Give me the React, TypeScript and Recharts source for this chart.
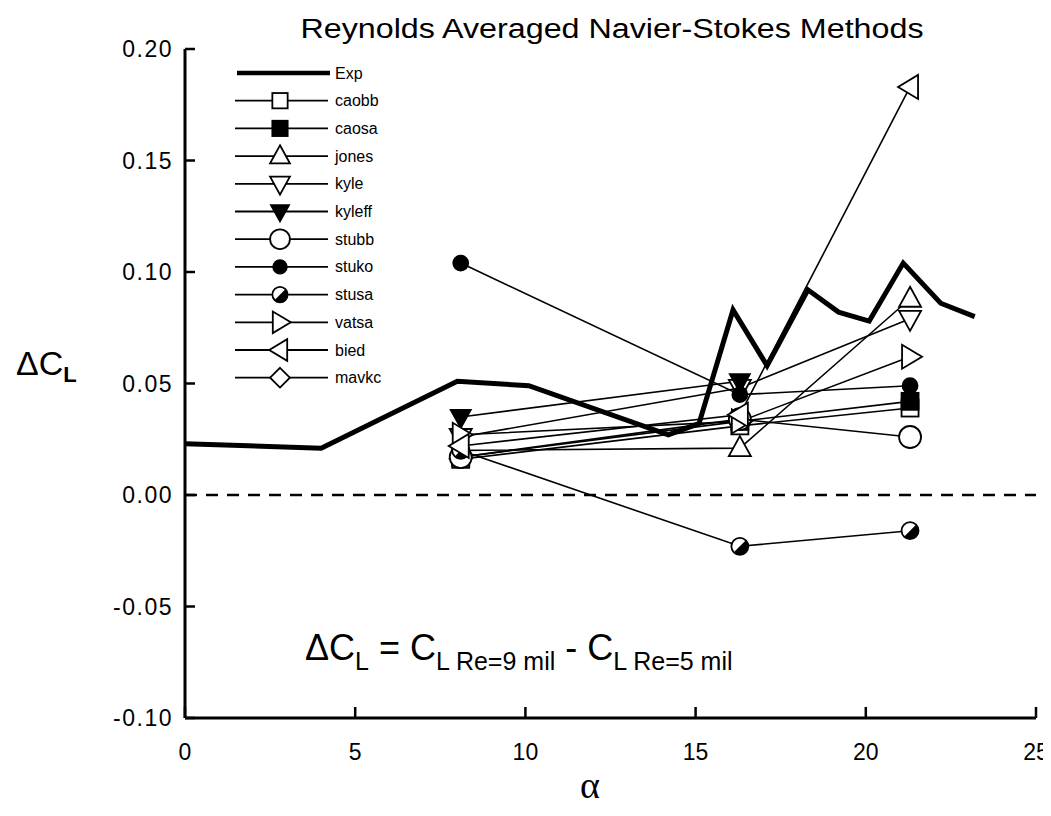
import React from 'react';
import { LineChart, Line, XAxis, YAxis, ReferenceLine, Legend } from 'recharts';

const W = 1043;
const H = 806;

// experiment
const expAlpha = [0, 4.0, 8.0, 10.1, 14.2, 15.1, 16.1, 17.1, 18.3, 19.2, 20.1, 21.1, 22.2, 23.2];
const expDCL = [0.023, 0.021, 0.051, 0.049, 0.027, 0.032, 0.083, 0.058, 0.092, 0.082, 0.078, 0.104, 0.086, 0.08];

// RANS runs, all at the same three angles
const simAlpha = [8.1, 16.3, 21.3];
const caobb = [0.016, 0.031, 0.039];
const caosa = [0.017, 0.033, 0.042];
const jones = [0.02, 0.021, 0.088];
const kyle = [0.026, 0.048, 0.079];
const kyleff = [0.035, 0.051];
const stubb = [0.017, 0.034, 0.026];
const stuko = [0.104, 0.045, 0.049];
const stusa = [0.02, -0.023, -0.016];
const vatsa = [0.027, 0.033, 0.062];
const bied = [0.022, 0.036, 0.183];
const mavkc: number[] = [];

const xTicks = [0, 5, 10, 15, 20, 25];
const yTicks = [-0.1, -0.05, 0, 0.05, 0.1, 0.15, 0.2];

const FONT = '"Liberation Sans", Arial, Helvetica, sans-serif';

type Kind =
  | 'square' | 'squareFilled' | 'triUp' | 'triDown' | 'triDownFilled'
  | 'circle' | 'circleFilled' | 'half' | 'triRight' | 'triLeft' | 'diamond';

const series: { name: string; values: number[]; kind: Kind }[] = [
  { name: 'caobb', values: caobb, kind: 'square' },
  { name: 'caosa', values: caosa, kind: 'squareFilled' },
  { name: 'jones', values: jones, kind: 'triUp' },
  { name: 'kyle', values: kyle, kind: 'triDown' },
  { name: 'kyleff', values: kyleff, kind: 'triDownFilled' },
  { name: 'stubb', values: stubb, kind: 'circle' },
  { name: 'stuko', values: stuko, kind: 'circleFilled' },
  { name: 'stusa', values: stusa, kind: 'half' },
  { name: 'vatsa', values: vatsa, kind: 'triRight' },
  { name: 'bied', values: bied, kind: 'triLeft' },
  { name: 'mavkc', values: mavkc, kind: 'diamond' },
];

const expData = expAlpha.map((a, i) => ({ a, v: expDCL[i] }));
const toPoints = (vals: number[]) => vals.map((v, i) => ({ a: simAlpha[i], v }));

function Marker({ kind, cx, cy, s = 1 }: { kind: Kind; cx: number; cy: number; s?: number }) {
  const sw = 1.8;
  const open = { fill: '#fff', stroke: '#000', strokeWidth: sw };
  const solid = { fill: '#000', stroke: '#000', strokeWidth: sw };
  const k = (n: number) => n * s;
  switch (kind) {
    case 'square':
      return <rect x={cx - k(8.5)} y={cy - k(8.5)} width={k(17)} height={k(17)} {...open} />;
    case 'squareFilled':
      return <rect x={cx - k(8.5)} y={cy - k(8.5)} width={k(17)} height={k(17)} {...solid} />;
    case 'triUp':
      return <polygon points={`${cx},${cy - k(12)} ${cx + k(11)},${cy + k(8)} ${cx - k(11)},${cy + k(8)}`} {...open} />;
    case 'triDown':
      return <polygon points={`${cx},${cy + k(12)} ${cx + k(11)},${cy - k(8)} ${cx - k(11)},${cy - k(8)}`} {...open} />;
    case 'triDownFilled':
      return <polygon points={`${cx},${cy + k(11)} ${cx + k(10)},${cy - k(7)} ${cx - k(10)},${cy - k(7)}`} {...solid} />;
    case 'circle':
      return <circle cx={cx} cy={cy} r={k(11)} {...open} />;
    case 'circleFilled':
      return <circle cx={cx} cy={cy} r={k(7.5)} {...solid} />;
    case 'half': {
      const r = k(8.5);
      const d = r * 0.707;
      return (
        <g>
          <circle cx={cx} cy={cy} r={r} {...open} />
          <path d={`M${cx + d},${cy - d} A${r},${r} 0 0 1 ${cx - d},${cy + d} Z`} fill="#000" />
        </g>
      );
    }
    case 'triRight':
      return <polygon points={`${cx + k(12)},${cy} ${cx - k(8)},${cy - k(12)} ${cx - k(8)},${cy + k(12)}`} {...open} />;
    case 'triLeft':
      return <polygon points={`${cx - k(12)},${cy} ${cx + k(8)},${cy - k(12)} ${cx + k(8)},${cy + k(12)}`} {...open} />;
    case 'diamond':
      return <polygon points={`${cx},${cy - k(11)} ${cx + k(11)},${cy} ${cx},${cy + k(11)} ${cx - k(11)},${cy}`} {...open} />;
  }
  return null;
}

const XTick = (props: any) => {
  const { x, y, payload } = props;
  const axisY = y - 34;
  return (
    <g>
      <line x1={x} x2={x} y1={axisY} y2={axisY - 11} stroke="#000" strokeWidth={2.5} />
      <text x={x} y={y} textAnchor="middle" dominantBaseline="central" fontFamily={FONT} fontSize={23} fill="#000">
        {payload.value}
      </text>
    </g>
  );
};

const YTick = (props: any) => {
  const { x, y, payload } = props;
  const axisX = x + 12;
  return (
    <g>
      <line x1={axisX} x2={axisX + 10} y1={y} y2={y} stroke="#000" strokeWidth={2.5} />
      <text x={x} y={y} textAnchor="end" dominantBaseline="central" fontFamily={FONT} fontSize={23} fill="#000" letterSpacing={1.5}>
        {Number(payload.value).toFixed(2)}
      </text>
    </g>
  );
};

// legend rows drawn in chart coordinates
const renderLegend = () => {
  const x0 = 227;
  const x1 = 320;
  const y0 = 65;
  const dy = 27.7;
  return (
    <svg width={420} height={420} style={{ display: 'block', overflow: 'visible' }}>
      <line x1={x0 + 2} x2={x1 + 2} y1={y0} y2={y0} stroke="#000" strokeWidth={4.5} />
      <text x={327} y={y0} dominantBaseline="central" fontFamily={FONT} fontSize={16} fill="#000">Exp</text>
      {series.map((s, i) => {
        const y = y0 + dy * (i + 1);
        return (
          <g key={s.name}>
            <line x1={x0} x2={x1} y1={y} y2={y} stroke="#000" strokeWidth={1.8} />
            <Marker kind={s.kind} cx={272} cy={y} s={0.9} />
            <text x={327} y={y} dominantBaseline="central" fontFamily={FONT} fontSize={16} fill="#000">{s.name}</text>
          </g>
        );
      })}
    </svg>
  );
};

export default function App() {
  return (
    <div style={{ position: 'relative', width: W, height: H, background: '#fff' }}>
      <LineChart width={W} height={H} margin={{ top: 41, right: 15, bottom: 0, left: 0 }}>
        <XAxis
          type="number"
          dataKey="a"
          domain={[0, 25]}
          ticks={xTicks}
          height={96}
          tickSize={0}
          tickMargin={34}
          tickLine={false}
          axisLine={{ stroke: '#000', strokeWidth: 3 }}
          tick={<XTick />}
          allowDataOverflow
        />
        <YAxis
          type="number"
          dataKey="v"
          domain={[-0.1, 0.2]}
          ticks={yTicks}
          width={177}
          tickSize={0}
          tickMargin={12}
          tickLine={false}
          axisLine={{ stroke: '#000', strokeWidth: 3 }}
          tick={<YTick />}
          allowDataOverflow
        />
        <ReferenceLine y={0} stroke="#000" strokeWidth={2.5} strokeDasharray="12 9" />
        <Legend
          layout="vertical"
          align="center"
          verticalAlign="middle"
          content={renderLegend}
          wrapperStyle={{ position: 'absolute', left: 0, top: 0, width: 420, height: 420 }}
        />
        <Line
          data={expData}
          dataKey="v"
          type="linear"
          stroke="#000"
          strokeWidth={5}
          strokeLinejoin="miter"
          dot={false}
          isAnimationActive={false}
        />
        {series.map((s) => (
          <Line
            key={s.name}
            data={toPoints(s.values)}
            dataKey="v"
            name={s.name}
            type="linear"
            stroke="#000"
            strokeWidth={1.6}
            isAnimationActive={false}
            dot={(p: any) => <Marker key={`${s.name}-${p.index}`} kind={s.kind} cx={p.cx} cy={p.cy} />}
            activeDot={false}
          />
        ))}
      </LineChart>
      <svg width={W} height={H} style={{ position: 'absolute', left: 0, top: 0, pointerEvents: 'none' }}>
        <text x={604} y={30} textAnchor="middle" fontFamily={FONT} fontSize={27} fill="#000" textLength={623} lengthAdjust="spacingAndGlyphs">
          Reynolds Averaged Navier-Stokes Methods
        </text>
        <text x={8} y={367} fontFamily={FONT} fontSize={34} fill="#000">
          ΔC<tspan fontSize={22} fontWeight="bold" dy={7}>L</tspan>
        </text>
        <text x={582} y={790} textAnchor="middle" fontFamily='"Liberation Serif", "Times New Roman", serif' fontSize={38} fill="#000">
          α
        </text>
        <text x={297} y={652} fontFamily={FONT} fontSize={36} fill="#000">
          ΔC<tspan fontSize={25} dy={10}>L</tspan>
          <tspan dy={-10}> = C</tspan>
          <tspan fontSize={25} dy={10}>L Re=9 mil</tspan>
          <tspan dy={-10}>  - C</tspan>
          <tspan fontSize={25} dy={10}>L Re=5 mil</tspan>
        </text>
      </svg>
    </div>
  );
}
